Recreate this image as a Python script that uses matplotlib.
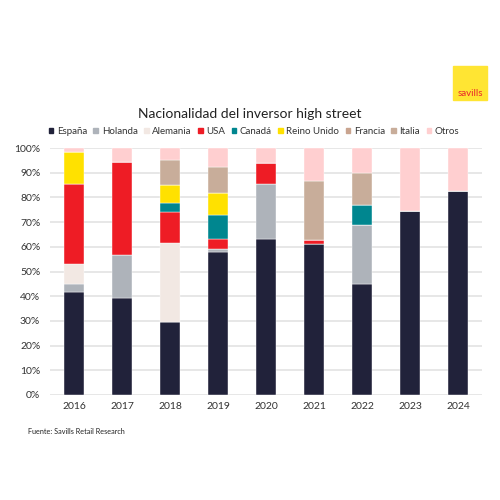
import matplotlib.pyplot as plt
import matplotlib.patches as mpatches
import numpy as np

plt.rcParams['font.family'] = ['Lato', 'DejaVu Sans']

years = ['2016', '2017', '2018', '2019', '2020', '2021', '2022', '2023', '2024']
espana = [41.6, 39.4, 29.7, 58.0, 63.2, 61.0, 44.8, 74.5, 82.5]
holanda = [3.4, 17.3, 0.0, 1.0, 22.2, 0.0, 24.2, 0.0, 0.0]
alemania = [7.9, 0.0, 31.8, 0.0, 0.0, 0.0, 0.0, 0.0, 0.0]
usa = [32.6, 37.8, 12.7, 4.2, 8.6, 1.9, 0.0, 0.0, 0.0]
canada = [0.0, 0.0, 3.5, 9.7, 0.0, 0.0, 7.9, 0.0, 0.0]
reino_unido = [12.7, 0.0, 7.2, 9.0, 0.0, 0.0, 0.0, 0.0, 0.0]
francia = [0.0, 0.0, 0.0, 0.0, 0.0, 0.0, 0.0, 0.0, 0.0]
italia = [0.0, 0.0, 10.2, 10.5, 0.0, 23.6, 12.8, 0.0, 0.0]
otros = [1.8, 5.5, 5.1, 7.6, 6.0, 13.5, 10.3, 25.5, 17.5]

series = [
    ('España', espana, '#21223a'),
    ('Holanda', holanda, '#aeb3ba'),
    ('Alemania', alemania, '#f2e8e3'),
    ('USA', usa, '#ee1c25'),
    ('Canadá', canada, '#00868f'),
    ('Reino Unido', reino_unido, '#ffe100'),
    ('Francia', francia, '#c9a48f'),
    ('Italia', italia, '#c8ad9a'),
    ('Otros', otros, '#ffcfd0'),
]

fig = plt.figure(figsize=(5, 5), dpi=100)
ax = fig.add_axes([0.1, 0.21, 0.864, 0.494])

x = np.arange(len(years))
bottom = np.zeros(len(years))
for name, vals, col in series:
    v = np.array(vals) / 100
    ax.bar(x, v, 0.4, bottom=bottom, color=col, label=name,
           edgecolor='white', linewidth=0.3, zorder=3)
    bottom += v

ax.set_xlim(-0.5, 8.5)
ax.set_ylim(0, 1)
ax.set_yticks(np.arange(0, 1.01, 0.1))
ax.set_yticklabels([f'{int(round(t*100))}%' for t in np.arange(0, 1.01, 0.1)])
ax.set_xticks(x)
ax.set_xticklabels(years)
ax.grid(axis='y', color='#e3e3e3', linewidth=1.2, zorder=0)
for s in ax.spines.values():
    s.set_visible(False)
ax.tick_params(length=0, labelsize=7.5, colors='#333333', pad=5)
ax.tick_params(axis='y', pad=7)

fig.text(0.5, 0.773, 'Nacionalidad del inversor high street', ha='center',
         va='center', fontsize=10, color='#222222')

handles = [mpatches.Patch(color=c, label=n) for n, _, c in series]
fig.legend(handles=handles, loc='center', bbox_to_anchor=(0.508, 0.737),
           ncol=9, frameon=False, fontsize=7, handlelength=0.5,
           handleheight=0.5, handletextpad=0.35, columnspacing=0.65,
           labelcolor='#333333')

fig.text(0.056, 0.136, 'Fuente: Savills Retail Research', fontsize=5.2,
         color='#222222', va='center')

# logo
fig.patches.append(mpatches.Rectangle((0.906, 0.8), 0.068, 0.068,
                                      transform=fig.transFigure,
                                      color='#ffe533', zorder=5))
fig.text(0.940, 0.812, 'savills', ha='center', va='center', fontsize=7,
         color='#e8262b', zorder=6)

fig.savefig('out.png', dpi=100, facecolor='white')
